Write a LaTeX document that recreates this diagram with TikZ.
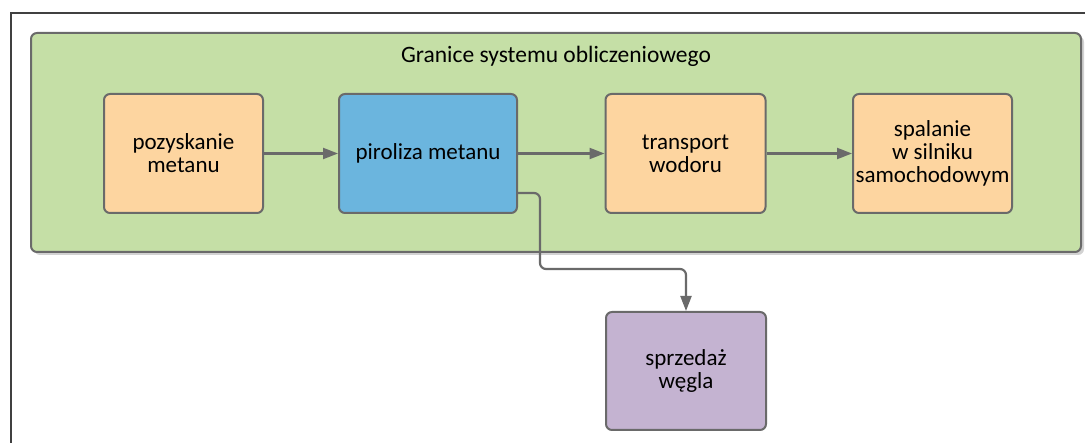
\documentclass[tikz,border=0pt]{standalone}
\usepackage{fontspec}
\setmainfont{Carlito}
\usetikzlibrary{arrows.meta}
\definecolor{boundfill}{HTML}{C5DFA6}
\definecolor{orangefill}{HTML}{FDD5A0}
\definecolor{bluefill}{HTML}{6BB5DE}
\definecolor{purplefill}{HTML}{C4B3D1}
\definecolor{edgegrey}{HTML}{6A6A6A}
\definecolor{framegrey}{HTML}{404040}
\tikzset{
  procbox/.style={draw=edgegrey, line width=2pt, rounded corners=6pt,
    minimum height=119pt, align=center, inner sep=2pt,
    font=\fontsize{23}{23}\selectfont},
  conn/.style={draw=edgegrey, line width=2.2pt,
    -{Triangle[length=15pt,width=11pt]}},
}
\begin{document}
\begin{tikzpicture}[x=1pt,y=-1pt]
\useasboundingbox (0,0) rectangle (1085,443);
% outer frame (top and left edges)
\draw[framegrey, line width=1.3pt] (1085,13) -- (11,13) -- (11,443);
% system boundary with a faint shadow
\fill[gray!35, rounded corners=6pt] (34,36) rectangle (1084,255);
\node[draw=edgegrey, fill=boundfill, line width=2pt, rounded corners=6pt,
  minimum width=1050pt, minimum height=219pt, inner sep=0pt] (bound) at (556,142.5) {};
\node[font=\fontsize{23.5}{24}\selectfont] (title) at (556,56) {Granice systemu obliczeniowego};
% process steps
\node[procbox, fill=orangefill, minimum width=159pt] (src) at (183.5,153.5) {pozyskanie\\metanu};
\node[procbox, fill=bluefill, minimum width=178pt] (pyr) at (428,153.5) {piroliza metanu};
\node[procbox, fill=orangefill, minimum width=160pt] (trans) at (685.5,153.5) {transport\\wodoru};
\node[procbox, fill=orangefill, minimum width=159pt] (burn) at (932.5,153.5) {spalanie\\w silniku\\samochodowym};
\node[procbox, fill=purplefill, minimum width=160pt, minimum height=118pt] (sale) at (686,371) {sprzedaż\\węgla};
% flows
\draw[conn] (src) -- (pyr);
\draw[conn] (pyr) -- (trans);
\draw[conn] (trans) -- (burn);
\coordinate (bend) at (540,269);
\draw[conn, rounded corners=6pt] ([yshift=-39.5pt]pyr.east) -| (bend) -| (sale.north);
\end{tikzpicture}
\end{document}
